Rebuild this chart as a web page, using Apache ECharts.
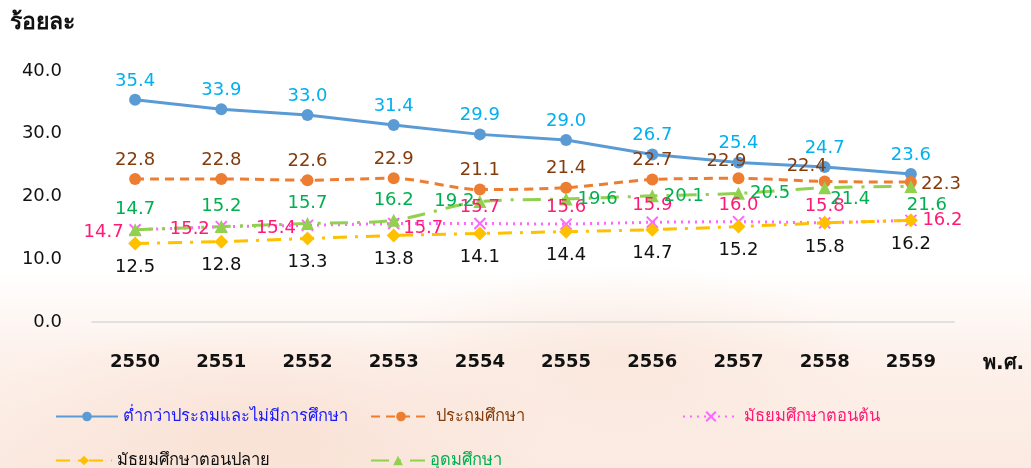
<!DOCTYPE html>
<html>
<head>
<meta charset="utf-8">
<script src="https://cdn.jsdelivr.net/npm/echarts@6/dist/echarts.min.js"></script>
<style>
  html, body { margin: 0; padding: 0; }
  body {
    width: 1031px; height: 468px; overflow: hidden;
    background:
      radial-gradient(ellipse 420px 160px at 260px 430px, rgba(244, 205, 185, 0.35), rgba(255,255,255,0) 70%),
      radial-gradient(ellipse 360px 140px at 620px 360px, rgba(246, 218, 200, 0.4), rgba(255,255,255,0) 70%),
      linear-gradient(to bottom, #ffffff 0%, #ffffff 58%, #fdf1eb 76%, #fbeae1 100%);
  }
  #chart { width: 1031px; height: 468px; }
</style>
</head>
<body>
<div id="chart"></div>
<script>
const years = ['2550', '2551', '2552', '2553', '2554', '2555', '2556', '2557', '2558', '2559']
const yTicks = [0, 10, 20, 30, 40]

const belowPrimary = [35.4, 33.9, 33.0, 31.4, 29.9, 29.0, 26.7, 25.4, 24.7, 23.6]
const primary = [22.8, 22.8, 22.6, 22.9, 21.1, 21.4, 22.7, 22.9, 22.4, 22.3]
const lowerSecondary = [14.7, 15.2, 15.4, 15.7, 15.7, 15.6, 15.9, 16.0, 15.8, 16.2]
const upperSecondary = [12.5, 12.8, 13.3, 13.8, 14.1, 14.4, 14.7, 15.2, 15.8, 16.2]
const higherEdu = [14.7, 15.2, 15.7, 16.2, 19.2, 19.6, 20.1, 20.5, 21.4, 21.6]

const names = [
  'ต่ำกว่าประถมและไม่มีการศึกษา',
  'ประถมศึกษา',
  'มัธยมศึกษาตอนต้น',
  'มัธยมศึกษาตอนปลาย',
  'อุดมศึกษา'
]

const font = '"DejaVu Sans", "Noto Sans", sans-serif'

// per-point label placement, like the original
function withLabels(values, positions, offsets) {
  return values.map((v, i) => {
    const item = { value: v }
    if (positions && positions[i]) item.label = { position: positions[i], offset: (offsets && offsets[i]) || [0, 0] }
    return item
  })
}

const chart = echarts.init(document.getElementById('chart'))

const legendItem = (name, color, left, top, w) => ({
  data: [{ name: name, textStyle: { color: color } }],
  left: left,
  top: top,
  itemWidth: w,
  itemHeight: 12,
  itemGap: 10,
  textStyle: { fontFamily: font, fontSize: 16.5, fontWeight: 'normal' }
})

chart.setOption({
  animation: false,
  backgroundColor: 'transparent',
  textStyle: { fontFamily: font },
  graphic: [
    { type: 'text', left: 10, top: 12, style: { text: 'ร้อยละ', font: 'bold 23px ' + font, fill: '#111' } },
    { type: 'text', left: 983, top: 354, style: { text: 'พ.ศ.', font: 'bold 20px ' + font, fill: '#111' } }
  ],
  legend: [
    legendItem(names[0], '#1a1aff', 50, 403, 62),
    legendItem(names[1], '#843c0c', 365, 403, 60),
    legendItem(names[2], '#ff1a75', 677, 403, 56),
    legendItem(names[3], '#111111', 50, 447, 56),
    legendItem(names[4], '#00b050', 365, 447, 54)
  ],
  grid: { left: 92, right: 77, top: 71, bottom: 146 },
  xAxis: {
    type: 'category',
    data: years,
    boundaryGap: true,
    axisLine: { lineStyle: { color: '#d9d9d9', width: 1.5 } },
    axisTick: { show: false },
    axisLabel: { margin: 31, color: '#111', fontSize: 18, fontWeight: 'bold', fontFamily: font }
  },
  yAxis: {
    type: 'value',
    min: yTicks[0],
    max: yTicks[yTicks.length - 1],
    interval: 10,
    axisLine: { show: false },
    axisTick: { show: false },
    splitLine: { show: false },
    axisLabel: { margin: 30, color: '#111', fontSize: 18, fontFamily: font, formatter: v => v.toFixed(1) }
  },
  series: [
    {
      name: names[0],
      type: 'line',
      data: belowPrimary,
      symbol: 'circle',
      symbolSize: 12,
      itemStyle: { color: '#5b9bd5' },
      lineStyle: { color: '#5b9bd5', width: 3 },
      label: { show: true, position: 'top', distance: 4, color: '#00b0f0', fontSize: 18, formatter: p => p.value.toFixed(1) }
    },
    {
      name: names[1],
      type: 'line',
      smooth: 0.3,
      data: withLabels(primary,
        [null, null, null, null, null, null, null, 'top', 'top', 'right'],
        [null, null, null, null, null, null, null, [-12, 2], [-18, 4], [0, 2]]),
      symbol: 'circle',
      symbolSize: 12,
      itemStyle: { color: '#ed7d31' },
      lineStyle: { color: '#ed7d31', width: 3, type: [9, 6] },
      label: { show: true, position: 'top', distance: 4, color: '#843c0c', fontSize: 18, formatter: p => p.value.toFixed(1) }
    },
    {
      name: names[2],
      type: 'line',
      data: withLabels(lowerSecondary,
        ['left', 'left', 'left', 'right', 'top', 'top', 'top', 'top', 'top', 'right'],
        [[0, 3], [0, 3], [0, 3], [-2, 5], [0, 4], [0, 4], [0, 4], [0, 4], [0, 4], [0, 0]]),
      symbol: 'path://M0,0 L10,10 M10,0 L0,10',
      symbolSize: 11,
      itemStyle: { color: 'transparent', borderColor: '#ff66ff', borderWidth: 2 },
      lineStyle: { color: '#ff66ff', width: 3, type: [2, 5] },
      label: { show: true, distance: 5, color: '#ff1a75', fontSize: 18, formatter: p => p.value.toFixed(1) }
    },
    {
      name: names[3],
      type: 'line',
      data: upperSecondary,
      symbol: 'diamond',
      symbolSize: 14,
      itemStyle: { color: '#ffc000' },
      lineStyle: { color: '#ffc000', width: 3, type: [14, 8, 3, 8] },
      label: { show: true, position: 'bottom', distance: 8, color: '#111', fontSize: 18, formatter: p => p.value.toFixed(1) }
    },
    {
      name: names[4],
      type: 'line',
      smooth: 0.3,
      data: withLabels(higherEdu,
        ['top', 'top', 'top', 'top', 'left', 'right', 'right', 'right', 'right', 'bottom'],
        [null, null, null, null, [6, 0], [0, 0], [0, 0], [0, 0], [-6, 12], [16, -2]]),
      symbol: 'triangle',
      symbolSize: 13,
      itemStyle: { color: '#92d050' },
      lineStyle: { color: '#92d050', width: 3, type: [18, 9, 3, 9] },
      label: { show: true, position: 'top', distance: 5, color: '#00b050', fontSize: 18, formatter: p => p.value.toFixed(1) }
    }
  ]
})
</script>
</body>
</html>
